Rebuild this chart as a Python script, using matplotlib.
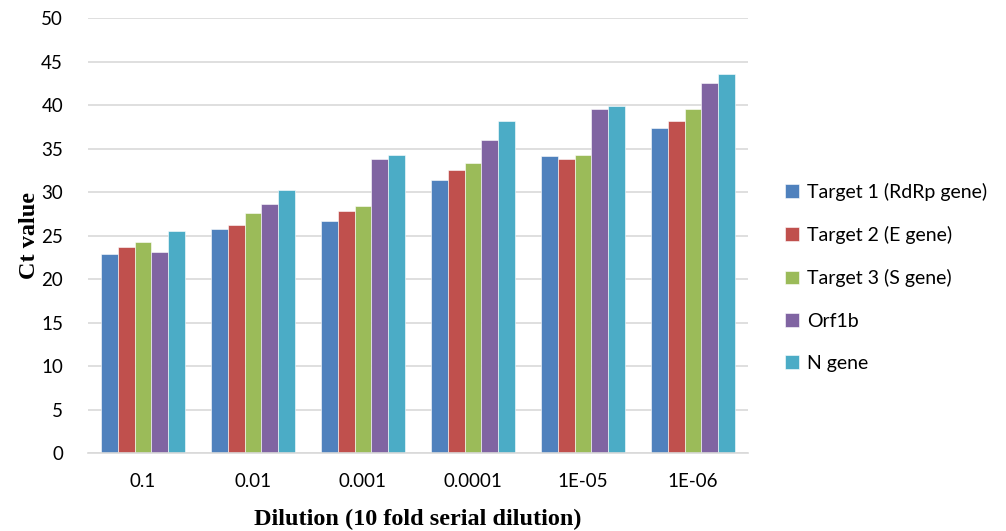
import numpy as np
import matplotlib.pyplot as plt

dilutions = ["0.1", "0.01", "0.001", "0.0001", "1E-05", "1E-06"]
series_names = ["Target 1 (RdRp gene)", "Target 2 (E gene)", "Target 3 (S gene)", "Orf1b", "N gene"]
target1 = [22.9, 25.8, 26.7, 31.4, 34.2, 37.4]
target2 = [23.7, 26.2, 27.9, 32.6, 33.8, 38.2]
target3 = [24.3, 27.6, 28.4, 33.4, 34.3, 39.5]
orf1b = [23.1, 28.7, 33.8, 36.0, 39.6, 42.5]
ngene = [25.6, 30.3, 34.3, 38.2, 39.9, 43.6]
colors = ["#4f81bd", "#c0504d", "#9bbb59", "#8064a2", "#4bacc6"]

plt.rcParams['font.family'] = ['Lato', 'DejaVu Sans']

fig = plt.figure(figsize=(10.06, 5.31), dpi=100)
ax = fig.add_axes([0.0875, 0.146, 0.656, 0.82])

x = np.arange(len(dilutions))
width = 0.153
all_series = [target1, target2, target3, orf1b, ngene]
for i, (name, vals) in enumerate(zip(series_names, all_series)):
    ax.bar(x + (i - 2) * width, vals, width, color=colors[i], label=name,
           edgecolor="white", linewidth=0.4, zorder=2)

ax.set_xlim(-0.5, len(dilutions) - 0.5)
ax.set_ylim(0, 50)
ax.set_yticks(np.arange(0, 51, 5))
ax.set_xticks(x)
ax.set_xticklabels(dilutions)
ax.grid(axis="y", color="#d9d9d9", linewidth=1.2, zorder=0)
for s in ["top", "right", "left"]:
    ax.spines[s].set_visible(False)
ax.spines["bottom"].set_color("#d9d9d9")
ax.spines["bottom"].set_linewidth(1.2)
ax.tick_params(axis="both", length=0, labelsize=13.5, colors="black")
ax.tick_params(axis="x", pad=14)
ax.tick_params(axis="y", pad=18)

ax.set_ylabel("Ct value", fontsize=17.5, fontweight="bold", family="Liberation Serif", labelpad=1)
ax.set_xlabel("Dilution (10 fold serial dilution)", fontsize=17.5, fontweight="bold",
              family="Liberation Serif", labelpad=14)

ax.legend(loc="center left", bbox_to_anchor=(1.03, 0.405), frameon=False, fontsize=14,
          handlelength=0.7, handleheight=0.7, handletextpad=0.4, labelspacing=1.3)

plt.savefig("out.png", dpi=100)
